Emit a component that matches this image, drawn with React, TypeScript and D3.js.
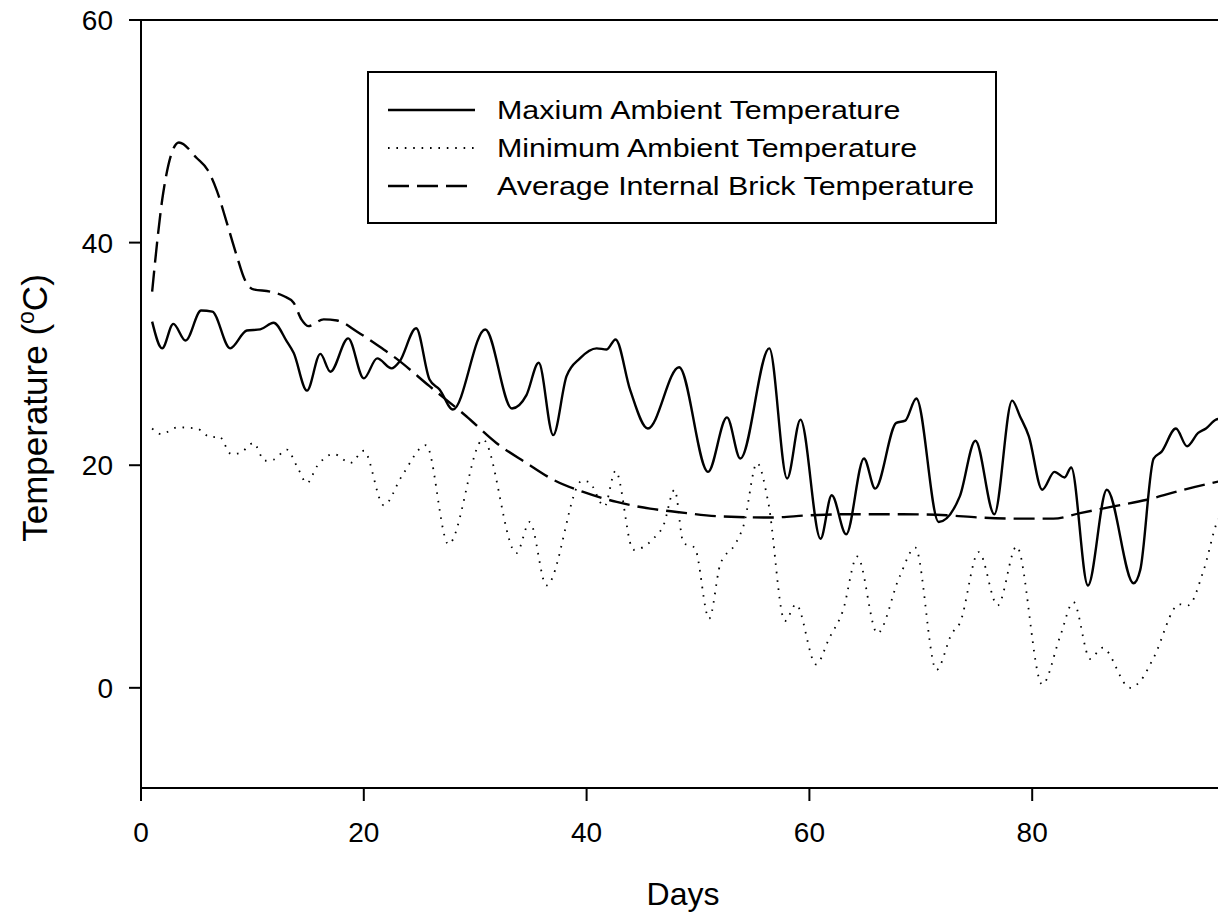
import React from 'react';
import * as d3 from 'd3';

// Maximum ambient temperature (°C) by day
const maxDays = [1.0, 1.9, 2.9, 4.0, 5.4, 6.4, 8.0, 9.5, 10.7, 11.9, 13.1, 13.7, 14.9, 16.1, 17.0, 18.6, 20.0, 21.2, 22.5, 23.2, 24.7, 25.9, 26.8, 28.0, 30.9, 33.3, 34.6, 35.7, 37.0, 38.2, 39.4, 40.9, 41.8, 42.6, 43.9, 45.5, 48.3, 50.9, 52.6, 53.8, 56.4, 58.0, 59.2, 61.0, 62.0, 63.3, 64.9, 65.9, 67.8, 68.6, 69.6, 71.6, 73.5, 74.9, 76.6, 78.2, 78.9, 79.7, 80.9, 82.0, 82.9, 83.5, 85.0, 86.7, 89.1, 89.7, 90.9, 91.6, 92.9, 93.9, 94.9, 95.6, 96.5, 97.0];
const maxTemps = [32.9, 30.5, 32.7, 31.2, 33.9, 33.8, 30.5, 32.1, 32.2, 32.8, 31.1, 30.1, 26.7, 30.0, 28.4, 31.4, 27.8, 29.6, 28.7, 29.3, 32.3, 27.7, 26.8, 25.0, 32.2, 25.1, 26.3, 29.2, 22.7, 28.0, 29.6, 30.5, 30.4, 31.3, 26.8, 23.3, 28.8, 19.4, 24.3, 20.6, 30.5, 18.8, 24.1, 13.4, 17.3, 13.8, 20.6, 17.9, 23.8, 24.0, 26.0, 14.9, 17.2, 22.2, 15.6, 25.8, 24.4, 22.6, 17.8, 19.4, 18.9, 19.8, 9.2, 17.8, 9.4, 10.6, 20.6, 21.2, 23.3, 21.7, 22.9, 23.3, 24.1, 24.2];

// Minimum ambient temperature (°C) by day
const minDays = [1.0, 1.8, 3.3, 5.0, 6.3, 7.0, 8.1, 8.9, 10.1, 11.1, 11.9, 13.1, 14.0, 14.9, 15.8, 17.3, 18.8, 20.0, 21.8, 23.4, 25.6, 27.6, 30.7, 33.7, 34.9, 36.4, 39.6, 40.2, 41.6, 42.6, 44.2, 46.0, 46.9, 47.9, 48.7, 49.7, 51.0, 52.0, 53.4, 54.1, 55.3, 56.3, 57.8, 58.8, 60.6, 61.8, 63.0, 64.3, 66.1, 68.1, 69.5, 71.4, 72.8, 73.5, 75.2, 76.9, 78.6, 80.9, 82.5, 83.7, 85.2, 86.3, 88.8, 89.7, 90.9, 93.2, 94.0, 95.4, 96.7, 97.0];
const minTemps = [23.3, 22.8, 23.4, 23.3, 22.5, 22.6, 21.0, 21.1, 22.0, 20.4, 20.5, 21.4, 19.9, 18.4, 19.9, 21.0, 20.2, 21.3, 16.4, 19.0, 21.8, 12.9, 22.3, 12.1, 14.9, 9.2, 18.6, 18.5, 16.3, 19.5, 12.4, 13.4, 14.6, 17.8, 13.0, 12.6, 6.2, 11.1, 13.0, 14.6, 20.2, 16.7, 6.0, 7.5, 2.1, 4.5, 6.9, 11.8, 4.9, 10.0, 12.6, 1.6, 4.9, 5.8, 12.2, 7.4, 12.7, 0.3, 4.6, 7.7, 2.6, 3.6, 0.0, 0.6, 2.7, 7.5, 7.4, 10.6, 15.1, 15.5];

// Average internal brick temperature (°C) by day
const brickDays = [1.0, 2.0, 3.4, 5.0, 6.0, 6.8, 7.7, 8.6, 9.3, 10.1, 11.6, 12.8, 13.7, 14.4, 15.0, 16.4, 17.6, 19.4, 21.2, 22.9, 25.9, 29.2, 31.9, 34.6, 37.0, 39.7, 42.7, 45.7, 48.1, 52.0, 56.5, 60.0, 63.9, 68.4, 72.3, 75.3, 79.2, 81.9, 84.3, 87.3, 90.3, 93.6, 97.0];
const brickTemps = [35.6, 44.5, 49.0, 47.6, 46.5, 44.7, 41.8, 38.8, 36.7, 35.8, 35.6, 35.2, 34.6, 33.1, 32.5, 33.1, 33.0, 32.0, 30.8, 29.6, 27.1, 24.4, 22.0, 20.2, 18.7, 17.6, 16.7, 16.1, 15.8, 15.4, 15.3, 15.5, 15.6, 15.6, 15.5, 15.3, 15.2, 15.2, 15.7, 16.3, 16.9, 17.8, 18.6];

const xTicks = [0, 20, 40, 60, 80];
const yTicks = [0, 20, 40, 60];

const seriesNames = [
  'Maxium Ambient Temperature',
  'Minimum Ambient Temperature',
  'Average Internal Brick Temperature',
];

const W = 1218;
const H = 919;
const left = 141;
const top = 20;
const bottom = 788;

const FONT = 'Arial, "Liberation Sans", Helvetica, sans-serif';

export default function App() {
  const x = d3.scaleLinear().domain([0, 97]).range([left, left + 97 * 11.14]);
  const y = d3.scaleLinear().domain([-9, 60]).range([bottom, top]);

  const toPts = (ds: number[], vs: number[]) => ds.map((d, i) => [d, vs[i]] as [number, number]);
  const line = d3
    .line<[number, number]>()
    .x((p) => x(p[0]))
    .y((p) => y(p[1]))
    .curve(d3.curveMonotoneX);

  const styles = [
    { dash: undefined as string | undefined, width: 2.4 },
    { dash: '1.6 6.8', width: 1.8 },
    { dash: '21 8', width: 2.4 },
  ];
  const paths = [
    line(toPts(maxDays, maxTemps)),
    line(toPts(minDays, minTemps)),
    line(toPts(brickDays, brickTemps)),
  ];

  const xEnd = x(97);
  const legX = 368;
  const legY = 72;
  const legW = 628;
  const legH = 151;
  const rowY = [110, 148, 186];

  return (
    <svg
      width={W}
      height={H}
      style={{ position: 'absolute', left: 0, top: 0, background: '#fff' }}
      fontFamily={FONT}
    >
      <rect x={0} y={0} width={W} height={H} fill="#fff" />
      <defs>
        <clipPath id="plot">
          <rect x={left} y={top} width={xEnd - left} height={bottom - top} />
        </clipPath>
      </defs>

      {/* frame */}
      <rect x={left} y={top} width={xEnd - left} height={bottom - top} fill="none" stroke="#000" strokeWidth={2} />

      {/* series */}
      <g clipPath="url(#plot)">
        {paths.map((d, i) => (
          <path
            key={i}
            d={d || ''}
            fill="none"
            stroke="#000"
            strokeWidth={styles[i].width}
            strokeDasharray={styles[i].dash}
          />
        ))}
      </g>

      {/* y axis */}
      {yTicks.map((t) => (
        <g key={t}>
          <line x1={left - 12} x2={left} y1={y(t)} y2={y(t)} stroke="#000" strokeWidth={2} />
          <text x={113} y={y(t)} dy="0.36em" textAnchor="end" fontSize={28}>
            {t}
          </text>
        </g>
      ))}

      {/* x axis */}
      {xTicks.map((t) => (
        <g key={t}>
          <line x1={x(t)} x2={x(t)} y1={bottom} y2={bottom + 13} stroke="#000" strokeWidth={2} />
          <text x={x(t)} y={842} textAnchor="middle" fontSize={28}>
            {t}
          </text>
        </g>
      ))}

      <text x={683} y={905} textAnchor="middle" fontSize={32}>
        Days
      </text>
      <text transform="translate(47,408) rotate(-90)" textAnchor="middle" fontSize={35}>
        Temperature (
        <tspan baselineShift="super" fontSize={23}>o</tspan>
        C)
      </text>

      {/* legend */}
      <rect x={legX} y={legY} width={legW} height={legH} fill="#fff" stroke="#000" strokeWidth={2} />
      {seriesNames.map((name, i) => (
        <g key={name}>
          <line
            x1={388}
            x2={475}
            y1={rowY[i]}
            y2={rowY[i]}
            stroke="#000"
            strokeWidth={styles[i].width}
            strokeDasharray={styles[i].dash}
          />
          <text
            transform={`translate(497,${rowY[i]}) scale(1.17,1)`}
            dy="0.36em"
            fontSize={26}
          >
            {name}
          </text>
        </g>
      ))}
    </svg>
  );
}
